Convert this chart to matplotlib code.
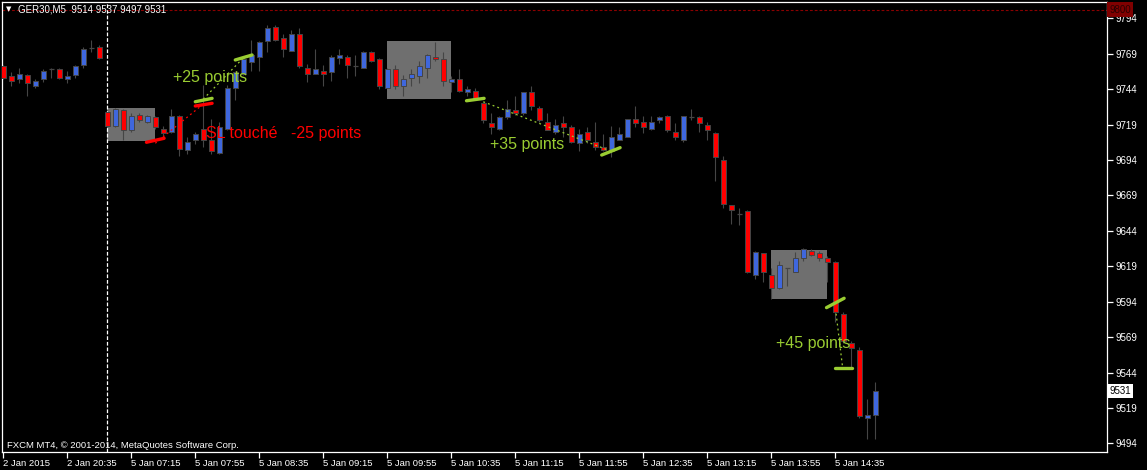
import matplotlib
matplotlib.use("Agg")
import matplotlib.pyplot as plt
from matplotlib.patches import Rectangle

# GER30 M5 candles
opens = [9760, 9753, 9751, 9754, 9746, 9751, 9758, 9758, 9751, 9754,
         9761, 9773, 9774, 9728, 9718, 9729, 9715, 9726, 9721, 9724,
         9716, 9714, 9725, 9701, 9708, 9716, 9708, 9699, 9716, 9745,
         9755, 9763, 9767, 9778, 9788, 9780, 9771, 9783, 9759, 9755,
         9757, 9756, 9766, 9767, 9760, 9759, 9770, 9765, 9745, 9758,
         9746, 9752, 9753, 9759, 9767, 9765, 9749, 9751, 9742, 9743,
         9734, 9720, 9716, 9724, 9729, 9727, 9742, 9731, 9721, 9714,
         9720, 9717, 9706, 9714, 9707, 9703, 9700, 9708, 9710, 9723,
         9721, 9716, 9722, 9725, 9714, 9708, 9724, 9724, 9719, 9713,
         9694, 9662, 9656, 9658, 9613, 9628, 9613, 9604, 9618, 9615,
         9625, 9630, 9628, 9625, 9622, 9585, 9565, 9560, 9512, 9514]
highs = [9761, 9756, 9759, 9755, 9751, 9758, 9759, 9759, 9757, 9761,
         9774, 9779, 9775, 9729, 9731, 9730, 9727, 9727, 9726, 9725,
         9718, 9730, 9726, 9710, 9714, 9747, 9723, 9721, 9747, 9757,
         9766, 9779, 9778, 9789, 9789, 9783, 9786, 9787, 9762, 9772,
         9761, 9768, 9772, 9768, 9768, 9771, 9771, 9766, 9759, 9761,
         9754, 9758, 9764, 9769, 9777, 9770, 9753, 9758, 9746, 9745,
         9735, 9727, 9725, 9736, 9739, 9742, 9746, 9732, 9727, 9723,
         9725, 9719, 9716, 9717, 9721, 9712, 9718, 9717, 9723, 9732,
         9725, 9725, 9725, 9726, 9720, 9725, 9730, 9725, 9721, 9714,
         9697, 9662, 9660, 9659, 9630, 9628, 9618, 9623, 9618, 9629,
         9632, 9631, 9630, 9626, 9623, 9587, 9566, 9562, 9525, 9537]
lows = [9751, 9746, 9748, 9739, 9745, 9749, 9752, 9751, 9748, 9752,
        9759, 9770, 9765, 9717, 9717, 9708, 9714, 9721, 9720, 9716,
        9710, 9713, 9697, 9698, 9705, 9703, 9698, 9698, 9715, 9736,
        9754, 9757, 9757, 9770, 9778, 9767, 9771, 9759, 9749, 9755,
        9746, 9750, 9762, 9752, 9753, 9759, 9763, 9744, 9745, 9744,
        9739, 9746, 9748, 9752, 9764, 9746, 9742, 9742, 9739, 9736,
        9720, 9712, 9715, 9723, 9726, 9726, 9729, 9721, 9715, 9712,
        9710, 9706, 9700, 9706, 9701, 9700, 9696, 9708, 9710, 9717,
        9713, 9715, 9720, 9714, 9708, 9707, 9722, 9714, 9708, 9679,
        9660, 9649, 9648, 9614, 9610, 9608, 9596, 9603, 9605, 9615,
        9623, 9626, 9623, 9608, 9580, 9565, 9547, 9512, 9497, 9497]
closes = [9752, 9750, 9755, 9748, 9750, 9757, 9758, 9752, 9753, 9760,
          9772, 9773, 9766, 9718, 9730, 9715, 9725, 9722, 9725, 9717,
          9713, 9725, 9702, 9707, 9712, 9708, 9700, 9717, 9745, 9756,
          9765, 9768, 9777, 9787, 9779, 9772, 9783, 9760, 9755, 9758,
          9755, 9767, 9768, 9761, 9760, 9770, 9764, 9746, 9758, 9746,
          9751, 9755, 9760, 9768, 9765, 9750, 9751, 9743, 9744, 9737,
          9722, 9717, 9724, 9730, 9727, 9742, 9732, 9722, 9715, 9719,
          9717, 9707, 9712, 9708, 9703, 9701, 9710, 9712, 9723, 9720,
          9717, 9721, 9724, 9715, 9710, 9725, 9724, 9720, 9715, 9696,
          9663, 9659, 9656, 9615, 9629, 9615, 9604, 9620, 9618, 9625,
          9631, 9627, 9625, 9622, 9587, 9566, 9561, 9513, 9514, 9531]

price_ticks = [9794, 9769, 9744, 9719, 9694, 9669, 9644, 9619, 9594, 9569, 9544, 9519, 9494]
time_tick_idx = [0, 8, 16, 24, 32, 40, 48, 56, 64, 72, 80, 88, 96, 104]
time_labels = ["2 Jan 2015", "2 Jan 20:35", "5 Jan 07:15", "5 Jan 07:55", "5 Jan 08:35",
               "5 Jan 09:15", "5 Jan 09:55", "5 Jan 10:35", "5 Jan 11:15", "5 Jan 11:55",
               "5 Jan 12:35", "5 Jan 13:15", "5 Jan 13:55", "5 Jan 14:35"]

# shaded zones: (first bar, last bar, low, high)
zones = [(13, 19, 9707.6, 9730.5), (48, 56, 9737, 9778), (96, 103, 9596, 9630.5)]

# trade marks: (x0, y0, x1, y1, colour)
marks = [(17.9, 9706.5, 20.1, 9709.3, "red"),
         (24.0, 9732.1, 26.1, 9734.0, "red"),
         (24.0, 9735.1, 26.1, 9737.5, "yellowgreen"),
         (29.0, 9764.6, 31.1, 9768.1, "yellowgreen"),
         (57.9, 9735.8, 60.1, 9737.5, "yellowgreen"),
         (74.8, 9697.5, 77.1, 9702.7, "yellowgreen"),
         (102.9, 9589.8, 105.1, 9596.4, "yellowgreen"),
         (104.0, 9547.0, 106.1, 9547.0, "yellowgreen")]
trade_paths = [(19.0, 9705.8, 24.6, 9731.6, "red"),
               (25.0, 9737.0, 30.0, 9766.0, "yellowgreen"),
               (60.0, 9735.1, 75.6, 9701.0, "yellowgreen"),
               (104.1, 9585.5, 104.9, 9548.1, "yellowgreen")]
notes = [(21.2, 9752.0, "+25 points", "yellowgreen"),
         (25.3, 9712.5, "SL touché   -25 points", "red"),
         (60.8, 9705.0, "+35 points", "yellowgreen"),
         (96.6, 9564.5, "+45 points", "yellowgreen")]

W, H = 1147, 470
BULL, BEAR, WICK = "#3f67dd", "#ff0000", "#454545"

plt.rcParams["font.family"] = ["Liberation Sans", "DejaVu Sans"]
fig = plt.figure(figsize=(W / 100, H / 100), dpi=100, facecolor="black")
ax = fig.add_axes([2 / W, 18 / H, 1105 / W, 450 / H], facecolor="black")

n = len(opens)
xs = list(range(n))
ax.set_xlim(-0.16, 137.96)
ax.set_ylim(9487.9, 9805.5)

for x0, x1, lo, hi in zones:
    ax.add_patch(Rectangle((x0, lo), x1 - x0, hi - lo, facecolor="#6f6f6f",
                           edgecolor="none", zorder=1))

# candles
ax.vlines(xs, lows, highs, color=WICK, linewidth=0.8, zorder=2)
for i in xs:
    o, c = opens[i], closes[i]
    if o == c:
        ax.hlines(o, i - 0.3, i + 0.3, color=WICK, linewidth=0.9, zorder=3)
        continue
    ax.bar(i, abs(c - o), bottom=min(o, c), width=0.6,
           color=BULL if c > o else BEAR, edgecolor=WICK, linewidth=0.7, zorder=3)

# separator and 9800 level
ax.axvline(13, color="white", linewidth=0.9, linestyle=(0, (3, 1.5)), zorder=2)
ax.axhline(9800, color="#8b0000", linewidth=0.8, linestyle=(0, (2.5, 1.8)), zorder=2)

for x0, y0, x1, y1, col in trade_paths:
    ax.plot([x0, x1], [y0, y1], color=col, linewidth=0.9,
            linestyle=(0, (1.5, 2.5)), zorder=4)
for x0, y0, x1, y1, col in marks:
    ax.plot([x0, x1], [y0, y1], color=col, linewidth=2.4,
            solid_capstyle="round", zorder=5)
for x, y, s, col in notes:
    ax.text(x, y, s, color=col, fontsize=11.5, ha="left", va="center", zorder=6)

# axes styling
for side in ("top", "bottom", "left", "right"):
    ax.spines[side].set_color("white")
    ax.spines[side].set_linewidth(0.9)
ax.yaxis.tick_right()
ax.set_yticks(price_ticks)
ax.set_yticklabels([str(p) for p in price_ticks])
ax.tick_params(axis="y", colors="white", labelsize=7, length=4, width=0.9, pad=2)
ax.set_xticks(time_tick_idx)
ax.set_xticklabels(time_labels, ha="left")
ax.tick_params(axis="x", colors="white", labelsize=6.8, length=4, width=0.9, pad=1)

# price boxes on the right scale
ax.text(1.002, 9800, "9800", transform=ax.get_yaxis_transform(), color="#2a0000",
        fontsize=7, va="center", ha="left",
        bbox=dict(boxstyle="square,pad=0.25", facecolor="#800000", edgecolor="none"))
ax.text(1.002, closes[-1], str(closes[-1]), transform=ax.get_yaxis_transform(), color="black",
        fontsize=7, va="center", ha="left",
        bbox=dict(boxstyle="square,pad=0.25", facecolor="white", edgecolor="none"))

fig.text(6 / W, 1 - 9 / H, "\u25bc", color="white", fontsize=5, va="center",
         family=["DejaVu Sans"])
fig.text(18 / W, 1 - 9 / H, "GER30,M5  9514 9537 9497 9531", color="white",
         fontsize=7, va="center")
fig.text(7 / W, 1 - 445 / H, "FXCM MT4, \u00a9 2001-2014, MetaQuotes Software Corp.",
         color="white", fontsize=6.8, va="center")

fig.savefig("out.png", dpi=100, facecolor="black")
